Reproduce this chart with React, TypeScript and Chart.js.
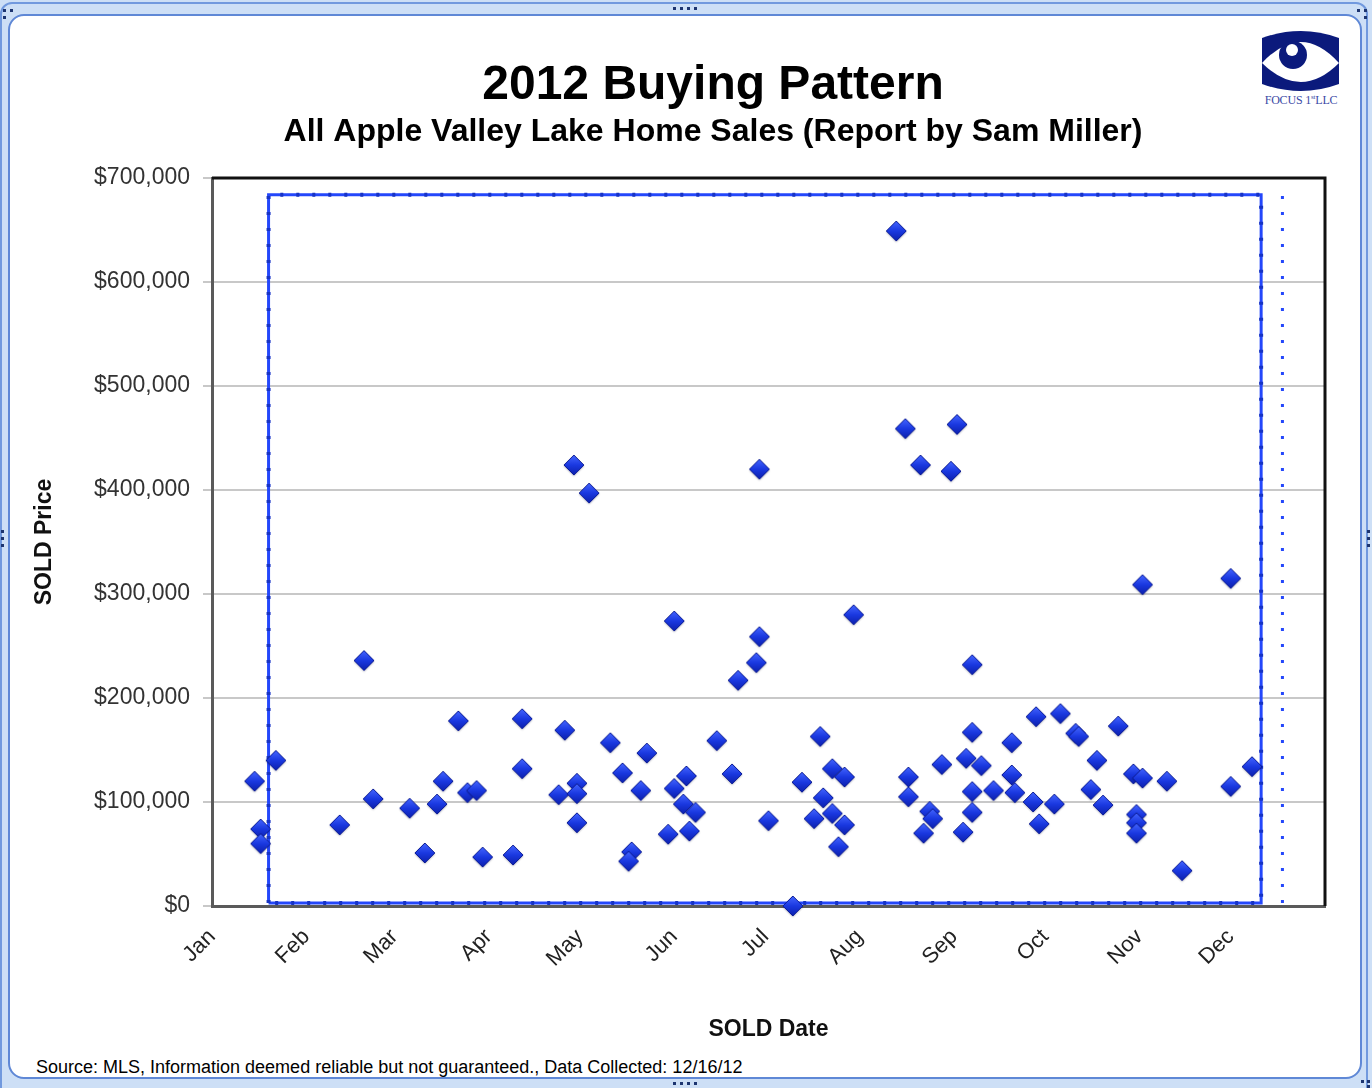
import React, { useEffect, useRef } from "react";
import { Chart, registerables } from "chart.js";

Chart.register(...registerables);

// ---------- data ----------
const MONTH_LABELS = ["Jan", "Feb", "Mar", "Apr", "May", "Jun", "Jul", "Aug", "Sep", "Oct", "Nov", "Dec"];
// day-of-year (0-based) on which each month of 2012 starts (leap year)
const MONTH_START_DAYS = [0, 31, 60, 91, 121, 152, 182, 213, 244, 274, 305, 335];
const YEAR_DAYS = 366;

const PRICE_MIN = 0;
const PRICE_MAX = 700000;
const PRICE_STEP = 100000;

const SOLD_DATES = [
  "01-15", "01-17", "01-17", "01-22", "02-12", "02-20", "02-23", "03-06", "03-11", "03-15",
  "03-17", "03-22", "03-25", "03-28", "03-30", "04-09", "04-12", "04-12", "04-24", "04-26",
  "04-30", "04-30", "04-30", "04-29", "05-04", "05-11", "05-15", "05-21", "05-23", "05-18",
  "05-17", "06-01", "06-01", "06-05", "06-04", "06-08", "05-30", "06-06", "06-15", "06-20",
  "06-22", "06-28", "06-29", "06-29", "07-02", "07-10", "07-30", "07-19", "07-13", "07-23",
  "07-27", "07-20", "07-17", "07-23", "07-27", "07-25", "08-17", "08-17", "08-24", "08-25",
  "08-22", "08-28", "08-13", "08-16", "08-21", "08-31", "09-02", "09-07", "09-07", "09-05",
  "09-10", "09-07", "09-14", "09-07", "09-04", "09-20", "09-20", "09-21", "09-27", "09-29",
  "09-28", "10-06", "10-04", "10-11", "10-12", "10-25", "10-18", "10-30", "11-02", "11-10",
  "10-16", "10-20", "10-31", "10-31", "10-31", "11-15", "11-02", "12-01", "12-01", "12-08",
];

const SOLD_PRICES = [
  120000, 74000, 60000, 140000, 78000, 236000, 103000, 94000, 51000, 98000,
  120000, 178000, 109000, 111000, 47000, 49000, 180000, 132000, 107000, 169000,
  118000, 108000, 80000, 424000, 397000, 157000, 128000, 111000, 147000, 52000,
  43000, 274000, 113000, 125000, 98000, 90000, 69000, 72000, 159000, 127000,
  217000, 234000, 259000, 420000, 82000, 0, 280000, 163000, 119000, 132000,
  124000, 104000, 84000, 89000, 78000, 57000, 124000, 105000, 91000, 84000,
  70000, 136000, 649000, 459000, 424000, 418000, 463000, 232000, 167000, 142000,
  135000, 110000, 111000, 90000, 71000, 157000, 126000, 109000, 100000, 79000,
  182000, 185000, 98000, 166000, 163000, 173000, 140000, 127000, 123000, 120000,
  112000, 97000, 88000, 80000, 70000, 34000, 309000, 315000, 115000, 134000,
];

// blue range box and dotted marker line (in data units: day-of-year / price)
const BOX_DAYS = [18.6, 345];
const BOX_PRICES = [3000, 684000];
const MARKER_DAY = 352;
const MARKER_PRICES = [3000, 687000];

// ---------- text ----------
const TITLE = "2012 Buying Pattern";
const SUBTITLE = "All Apple Valley Lake Home Sales (Report by Sam Miller)";
const X_TITLE = "SOLD Date";
const Y_TITLE = "SOLD Price";
const SOURCE_NOTE = "Source: MLS, Information deemed reliable but not guaranteed., Data Collected: 12/16/12";

const FONT = "'Liberation Sans', Arial, Helvetica, sans-serif";

function dayOfYear(mmdd: string): number {
  const [m, d] = mmdd.split("-").map(Number);
  return MONTH_START_DAYS[m - 1] + d - 1;
}

function makeDiamond(r: number): HTMLCanvasElement {
  const pad = 3;
  const size = Math.ceil(2 * r + 2 * pad);
  const c = document.createElement("canvas");
  c.width = size;
  c.height = size;
  const g = c.getContext("2d")!;
  const cx = size / 2;
  const cy = size / 2;
  const path = () => {
    g.beginPath();
    g.moveTo(cx, cy - r);
    g.lineTo(cx + r, cy);
    g.lineTo(cx, cy + r);
    g.lineTo(cx - r, cy);
    g.closePath();
  };
  g.save();
  g.shadowColor = "rgba(0,0,40,0.35)";
  g.shadowBlur = 2;
  g.shadowOffsetY = 1;
  path();
  const grad = g.createLinearGradient(0, cy - r, 0, cy + r);
  grad.addColorStop(0, "#4466ff");
  grad.addColorStop(0.5, "#1a38e0");
  grad.addColorStop(1, "#0c20ac");
  g.fillStyle = grad;
  g.fill();
  g.restore();
  path();
  g.lineWidth = 1;
  g.strokeStyle = "#0c1c94";
  g.stroke();
  return c;
}

const plotFramePlugin = {
  id: "plotFrame",
  afterDraw(chart: any) {
    const { ctx, chartArea } = chart;
    const { left, top, right, bottom } = chartArea;
    ctx.save();
    ctx.strokeStyle = "#111111";
    ctx.lineWidth = 3;
    ctx.beginPath();
    ctx.moveTo(left, top);
    ctx.lineTo(right, top);
    ctx.lineTo(right, bottom);
    ctx.stroke();
    ctx.restore();
  },
};

function Handle({ x, y }: { x: number; y: number }) {
  return <div style={{ position: "absolute", left: x, top: y, width: 3, height: 3, background: "#1d3570" }} />;
}

function Logo() {
  return (
    <div style={{ position: "absolute", left: 1258, top: 28, width: 86, height: 84 }}>
      <svg width="86" height="68" viewBox="0 0 86 68">
        <path d="M4 10 Q43 -4 81 10 L81 56 Q43 70 4 56 Z" fill="#0b1a7c" />
        <path d="M4 35 Q43 -7 81 35 Q43 73 4 35 Z" fill="#ffffff" />
        <circle cx="35" cy="27" r="14" fill="#0b1a7c" />
        <circle cx="34" cy="22" r="6" fill="#ffffff" />
      </svg>
      <div
        style={{
          position: "absolute",
          left: -4,
          top: 65,
          width: 94,
          textAlign: "center",
          fontFamily: "'Liberation Serif', 'Times New Roman', serif",
          fontSize: 12,
          color: "#3b4aa6",
          whiteSpace: "nowrap",
          letterSpacing: -0.2,
        }}
      >
        FOCUS 1<sup style={{ fontSize: 7 }}>st</sup>LLC
      </div>
    </div>
  );
}

export default function App() {
  const canvasRef = useRef<HTMLCanvasElement | null>(null);

  useEffect(() => {
    if (!canvasRef.current) return;
    const diamond = makeDiamond(10);

    const salePoints = SOLD_DATES.map((d, i) => ({ x: dayOfYear(d), y: SOLD_PRICES[i] }));
    const boxPoints = [
      { x: BOX_DAYS[0], y: BOX_PRICES[0] },
      { x: BOX_DAYS[0], y: BOX_PRICES[1] },
      { x: BOX_DAYS[1], y: BOX_PRICES[1] },
      { x: BOX_DAYS[1], y: BOX_PRICES[0] },
      { x: BOX_DAYS[0], y: BOX_PRICES[0] },
    ];
    const markerPoints = MARKER_PRICES.map((p) => ({ x: MARKER_DAY, y: p }));

    const chart = new Chart(canvasRef.current, {
      type: "scatter",
      data: {
        datasets: [
          {
            label: "Sales",
            data: salePoints,
            pointStyle: diamond as any,
            pointRadius: 10,
            showLine: false,
            clip: false as any,
            order: 1,
          },
          {
            label: "Range",
            data: boxPoints,
            showLine: true,
            borderColor: "#2447fb",
            borderWidth: 3,
            pointRadius: 0,
            fill: false,
            order: 3,
          },
          {
            label: "Range dots",
            data: boxPoints,
            showLine: true,
            borderColor: "#1733c4",
            borderWidth: 4,
            borderDash: [3, 13],
            pointRadius: 0,
            fill: false,
            order: 2,
          },
          {
            label: "Marker",
            data: markerPoints,
            showLine: true,
            borderColor: "#2447fb",
            borderWidth: 3,
            borderDash: [3, 13],
            borderCapStyle: "butt",
            pointRadius: 0,
            fill: false,
            order: 2,
          },
        ],
      },
      options: {
        responsive: false,
        animation: false,
        devicePixelRatio: 1,
        layout: { padding: { left: 85, right: 31, top: 22, bottom: 40 } },
        plugins: {
          legend: { display: false },
          tooltip: { enabled: false },
          title: {
            display: true,
            text: TITLE,
            color: "#000000",
            font: { family: FONT, size: 48, weight: "bold", lineHeight: 1.2 },
            padding: { top: 35, bottom: 0 },
          },
          subtitle: {
            display: true,
            text: SUBTITLE,
            color: "#000000",
            font: { family: FONT, size: 32, weight: "bold", lineHeight: 1.2 },
            padding: { top: -2, bottom: 27 },
          },
        },
        scales: {
          x: {
            type: "linear",
            min: 0,
            max: YEAR_DAYS,
            afterBuildTicks: (scale: any) => {
              scale.ticks = MONTH_START_DAYS.map((v) => ({ value: v }));
            },
            afterFit: (scale: any) => {
              scale.height = 142;
            },
            grid: { display: false },
            border: { display: true, color: "#5a5a5a", width: 3 },
            ticks: {
              autoSkip: false,
              minRotation: 45,
              maxRotation: 45,
              padding: 10,
              color: "#222222",
              font: { family: FONT, size: 22 },
              callback: (v: any) => {
                const i = MONTH_START_DAYS.indexOf(Number(v));
                return i >= 0 ? MONTH_LABELS[i] : "";
              },
            },
            title: {
              display: true,
              text: X_TITLE,
              color: "#111111",
              font: { family: FONT, size: 23, weight: "bold", lineHeight: 1.2 },
              padding: { top: 0, bottom: 5 },
            },
          },
          y: {
            type: "linear",
            min: PRICE_MIN,
            max: PRICE_MAX,
            afterFit: (scale: any) => {
              scale.width = 127;
            },
            grid: { color: "#c8c8c8", lineWidth: 2, tickLength: 9, drawOnChartArea: true },
            border: { display: true, color: "#5a5a5a", width: 3 },
            ticks: {
              stepSize: PRICE_STEP,
              padding: 13,
              color: "#333333",
              font: { family: FONT, size: 23 },
              callback: (v: any) => "$" + Number(v).toLocaleString("en-US"),
            },
            title: {
              display: true,
              text: Y_TITLE,
              color: "#111111",
              font: { family: FONT, size: 23, weight: "bold", lineHeight: 1.2 },
              padding: { top: -54, bottom: 0 },
            },
          },
          // empty spacer on the right so the titles centre where the reference has them
          ySpacer: {
            type: "linear",
            position: "right",
            display: true,
            min: 0,
            max: 1,
            afterFit: (scale: any) => {
              scale.width = 16;
            },
            grid: { display: false, drawTicks: false },
            border: { display: false },
            ticks: { display: false },
          },
        },
      } as any,
      plugins: [plotFramePlugin],
    });

    return () => chart.destroy();
  }, []);

  return (
    <div
      style={{
        position: "absolute",
        left: 0,
        top: 0,
        width: 1372,
        height: 1088,
        overflow: "hidden",
        background: "#cddff6",
        fontFamily: FONT,
      }}
    >
      <div
        style={{
          position: "absolute",
          left: 0,
          top: 2,
          width: 1368,
          height: 1200,
          border: "2px solid #7199de",
          borderRadius: 12,
          boxSizing: "border-box",
        }}
      />
      <div
        style={{
          position: "absolute",
          left: 8,
          top: 14,
          width: 1354,
          height: 1065,
          background: "#ffffff",
          border: "2px solid #5f88d6",
          borderRadius: 16,
          boxSizing: "border-box",
        }}
      />
      <Handle x={3} y={9} />
      <Handle x={10} y={9} />
      <Handle x={3} y={16} />
      <Handle x={1357} y={9} />
      <Handle x={1364} y={9} />
      <Handle x={1364} y={16} />
      <Handle x={673} y={7} />
      <Handle x={680} y={7} />
      <Handle x={687} y={7} />
      <Handle x={694} y={7} />
      <Handle x={673} y={1082} />
      <Handle x={680} y={1082} />
      <Handle x={687} y={1082} />
      <Handle x={694} y={1082} />
      <Handle x={1361} y={1080} />
      <Handle x={1367} y={1080} />
      <Handle x={1367} y={1085} />
      <Handle x={1} y={530} />
      <Handle x={1} y={537} />
      <Handle x={1} y={544} />
      <Handle x={1367} y={530} />
      <Handle x={1367} y={537} />
      <Handle x={1367} y={544} />
      <Logo />
      <div
        style={{
          position: "absolute",
          left: 36,
          top: 1057,
          fontSize: 18,
          lineHeight: "20px",
          color: "#000000",
          whiteSpace: "nowrap",
        }}
      >
        {SOURCE_NOTE}
      </div>
      <canvas
        ref={canvasRef}
        width={1372}
        height={1088}
        style={{ position: "absolute", left: 0, top: 0, width: 1372, height: 1088 }}
      />
    </div>
  );
}
